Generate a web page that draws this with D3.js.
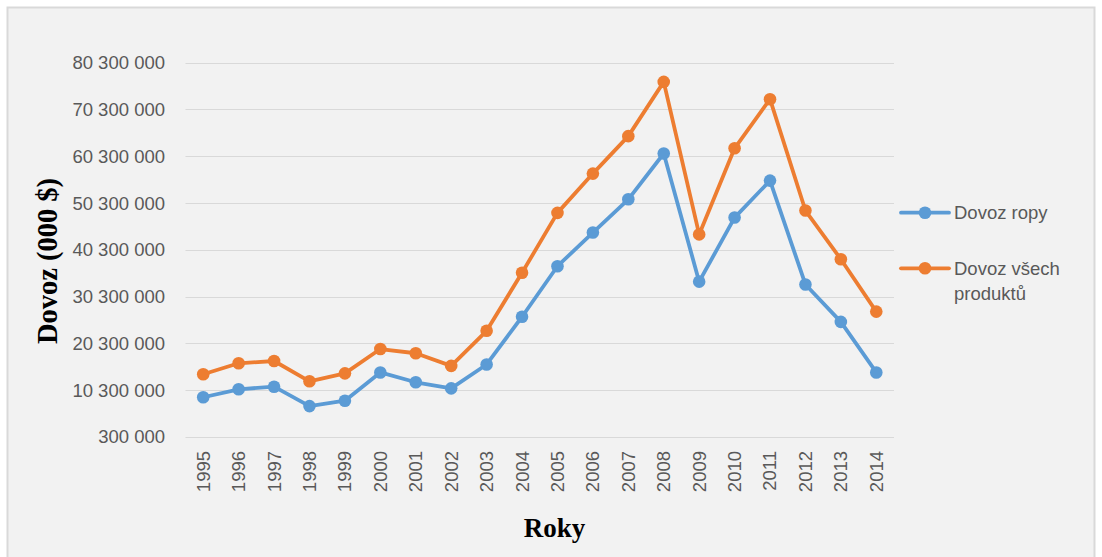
<!DOCTYPE html>
<html><head><meta charset="utf-8">
<script src="https://cdn.jsdelivr.net/npm/d3@7"></script>
<style>body{margin:0;background:#fff;}svg{display:block;}</style>
</head><body>
<script>
const years = ["1995","1996","1997","1998","1999","2000","2001","2002","2003","2004","2005","2006","2007","2008","2009","2010","2011","2012","2013","2014"];
const oilImports = [8800000,10500000,11050000,6900000,8060000,14100000,12000000,10700000,15800000,26000000,36800000,44000000,51100000,60900000,33500000,47200000,55100000,32900000,24900000,14100000];
const allImports = [13700000,16050000,16540000,12200000,13900000,19100000,18200000,15500000,23000000,35400000,48200000,56600000,64600000,76200000,43600000,62000000,72500000,48700000,38300000,27100000];
const yTicks = [300000,10300000,20300000,30300000,40300000,50300000,60300000,70300000,80300000];
const seriesNames = ["Dovoz ropy","Dovoz všech produktů"];
const colors = ["#5b9bd5","#ed7d31"];

const W = 1102, H = 557;
const svg = d3.select("body").append("svg").attr("width",W).attr("height",H);
svg.append("rect").attr("x",7.5).attr("y",7.5).attr("width",1087).attr("height",560)
  .attr("fill","#f2f2f2").attr("stroke","#d9d9d9").attr("stroke-width",2);

const x = d3.scalePoint().domain(years).range([185.5,894]).padding(0.5);
const y = d3.scaleLinear().domain([300000,80300000]).range([437,62.7]);

const fmt = v => d3.format(",")(v).replace(/,/g," ");

// grid
svg.append("g").selectAll("line").data(yTicks).join("line")
  .attr("x1",185.5).attr("x2",894).attr("y1",d=>Math.round(y(d))+0.5).attr("y2",d=>Math.round(y(d))+0.5)
  .attr("stroke","#d9d9d9").attr("stroke-width",1);

// y tick labels
svg.append("g").selectAll("text").data(yTicks).join("text")
  .attr("x",165).attr("y",d=>y(d)).attr("dy","0.35em").attr("text-anchor","end")
  .attr("font-family","Liberation Sans, Arial, sans-serif").attr("font-size",18.5).attr("fill","#595959")
  .text(fmt);

// x tick labels
svg.append("g").selectAll("text").data(years).join("text")
  .attr("transform",d=>`translate(${x(d)},451) rotate(-90)`)
  .attr("dy","0.35em").attr("text-anchor","end")
  .attr("font-family","Liberation Sans, Arial, sans-serif").attr("font-size",18.5).attr("fill","#595959")
  .text(d=>d);

// axis titles
svg.append("text").attr("x",554.5).attr("y",536.5).attr("text-anchor","middle")
  .attr("font-family","Liberation Serif, Times New Roman, serif").attr("font-weight","bold").attr("font-size",27)
  .attr("fill","#000").text("Roky");
svg.append("text").attr("transform","translate(56.5,261) rotate(-90)").attr("text-anchor","middle")
  .attr("font-family","Liberation Serif, Times New Roman, serif").attr("font-weight","bold").attr("font-size",28.5)
  .attr("fill","#000").text("Dovoz (000 $)");

// series
const data = [oilImports, allImports];
const line = d3.line().x((d,i)=>x(years[i])).y(d=>y(d));
data.forEach((s,k)=>{
  const g = svg.append("g");
  g.append("path").datum(s).attr("d",line).attr("fill","none").attr("stroke",colors[k])
    .attr("stroke-width",3.8).attr("stroke-linejoin","round").attr("stroke-linecap","round");
  g.selectAll("circle").data(s).join("circle").attr("cx",(d,i)=>x(years[i])).attr("cy",d=>y(d))
    .attr("r",6.3).attr("fill",colors[k]);
});

// legend
const legY = [212.7,268.3];
seriesNames.forEach((n,k)=>{
  const g = svg.append("g");
  g.append("line").attr("x1",901).attr("x2",949).attr("y1",legY[k]).attr("y2",legY[k])
    .attr("stroke",colors[k]).attr("stroke-width",3.8).attr("stroke-linecap","round");
  g.append("circle").attr("cx",925).attr("cy",legY[k]).attr("r",6.3).attr("fill",colors[k]);
  const t = g.append("text").attr("x",954).attr("y",legY[k]).attr("dy","0.35em")
    .attr("font-family","Liberation Sans, Arial, sans-serif").attr("font-size",18.5).attr("fill","#595959");
  if (k===0) t.text(n);
  else {
    t.append("tspan").attr("x",954).text("Dovoz všech");
    t.append("tspan").attr("x",954).attr("dy","1.35em").text("produktů");
  }
});
</script>
</body></html>
